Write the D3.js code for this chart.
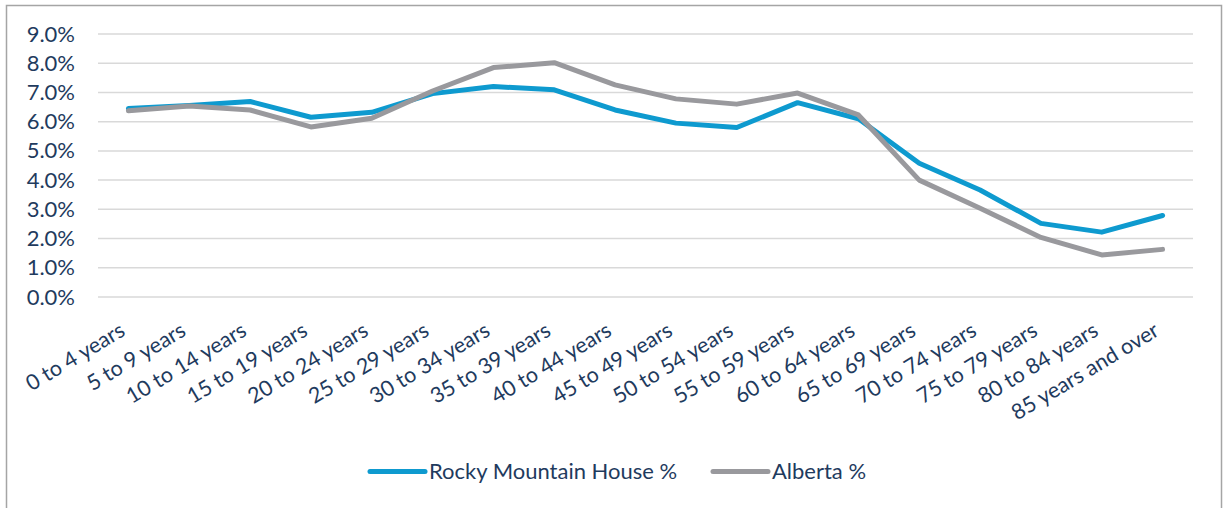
<!DOCTYPE html>
<html><head><meta charset="utf-8">
<script src="https://cdn.jsdelivr.net/npm/d3@7"></script>
<style>body{margin:0;background:#fff}svg{display:block}</style>
</head><body><svg id="c" width="1223" height="508"></svg>
<script>
const categories = ["0 to 4 years","5 to 9 years","10 to 14 years","15 to 19 years","20 to 24 years","25 to 29 years","30 to 34 years","35 to 39 years","40 to 44 years","45 to 49 years","50 to 54 years","55 to 59 years","60 to 64 years","65 to 69 years","70 to 74 years","75 to 79 years","80 to 84 years","85 years and over"];
const rockyMountainHouse = [6.45,6.55,6.69,6.15,6.32,6.96,7.2,7.09,6.4,5.95,5.8,6.65,6.1,4.58,3.66,2.52,2.22,2.79];
const alberta = [6.37,6.54,6.4,5.82,6.12,7.05,7.85,8.02,7.26,6.78,6.6,6.98,6.23,4.0,3.04,2.04,1.44,1.63];
const yTicks = [0,1,2,3,4,5,6,7,8,9];
const seriesNames = ["Rocky Mountain House %","Alberta %"];
const seriesColors = ["#0E9ACF","#99999D"];

const svg = d3.select("#c");
const textColor = "#1F3B5E";
const font = "Lato, 'Open Sans', sans-serif";

// outer border
svg.append("rect").attr("x",6.5).attr("y",5.5).attr("width",1215).attr("height",600)
  .attr("fill","none").attr("stroke","#A5A5A5").attr("stroke-width",1.5);

const x = d3.scaleBand().domain(categories).range([98,1193]).padding(0);
const xc = c => x(c) + x.bandwidth()/2;
const y = d3.scaleLinear().domain([0,9]).range([297,34]);

// gridlines
svg.append("g").selectAll("line").data(yTicks).join("line")
  .attr("x1",98).attr("x2",1193)
  .attr("y1",d=>y(d)).attr("y2",d=>y(d))
  .attr("stroke","#D9D9D9").attr("stroke-width",1.5);

// y axis labels
const yAxis = d3.axisLeft(y).tickValues(yTicks).tickFormat(d=>d.toFixed(1)+"%").tickSize(0).tickPadding(0);
const gy = svg.append("g").attr("transform","translate(75,0)").call(yAxis);
gy.select(".domain").remove();
gy.selectAll("text").attr("fill",textColor).style("font-family",font).style("font-size","22px");

// x labels
svg.append("g").selectAll("text").data(categories).join("text")
  .attr("transform",d=>`translate(${xc(d)-2},334.5) rotate(-31)`)
  .attr("text-anchor","end")
  .attr("fill",textColor).style("font-family",font).style("font-size","21.5px")
  .text(d=>d);

// lines
const line = d3.line().x((d,i)=>xc(categories[i])).y(d=>y(d));
[rockyMountainHouse, alberta].forEach((vals,k)=>{
  svg.append("path").datum(vals).attr("d",line)
    .attr("fill","none").attr("stroke",seriesColors[k]).attr("stroke-width",5)
    .attr("stroke-linejoin","round").attr("stroke-linecap","round");
});

// legend
const legendX = [370,713];
const leg = svg.append("g");
seriesNames.forEach((n,k)=>{
  leg.append("line").attr("x1",legendX[k]).attr("x2",legendX[k]+55).attr("y1",471.5).attr("y2",471.5)
    .attr("stroke",seriesColors[k]).attr("stroke-width",5).attr("stroke-linecap","round");
  leg.append("text").attr("x",legendX[k]+59).attr("y",478.5).attr("fill",textColor)
    .style("font-family",font).style("font-size","22px").text(n);
});
</script></body></html>
